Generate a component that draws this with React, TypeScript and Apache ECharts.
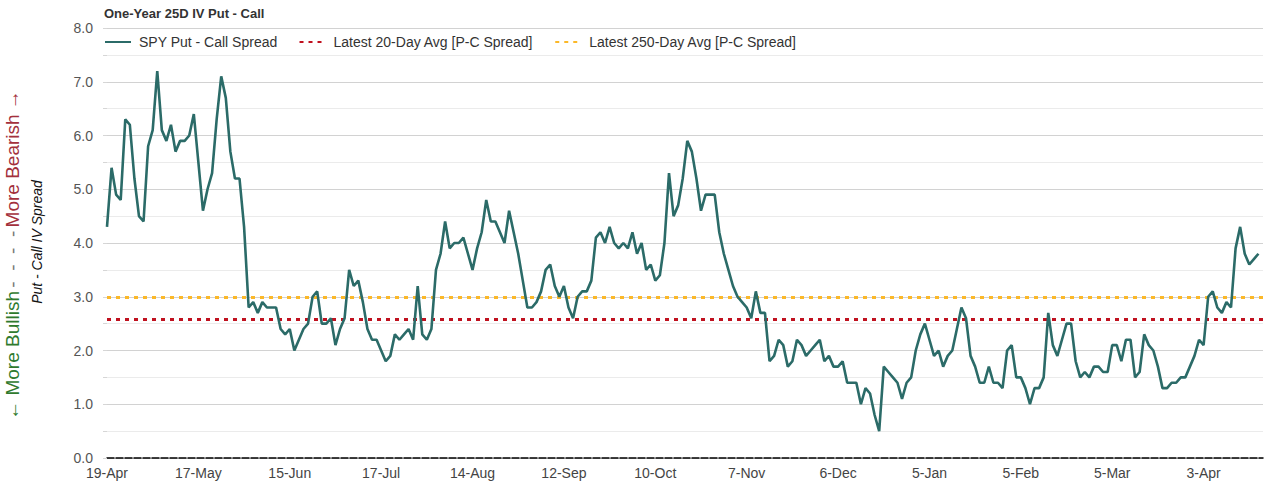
import React, { useEffect, useRef } from "react";
import * as echarts from "echarts";

// ---------- data ----------
const startDate = "2023-04-19";
const endDate = "2024-04-22";
const marketHolidays = [
  "2023-05-29", "2023-06-19", "2023-07-04", "2023-09-04", "2023-11-23",
  "2023-12-25", "2024-01-01", "2024-01-15", "2024-02-19", "2024-03-29",
];
const monthNames = ["Jan", "Feb", "Mar", "Apr", "May", "Jun", "Jul", "Aug", "Sep", "Oct", "Nov", "Dec"];

const spreadAprJul = [
  4.3, 5.4, 4.9, 4.8, 6.3, 6.2, 5.2, 4.5, 4.4, 5.8, 6.1, 7.2, 6.1, 5.9, 6.2, 5.7, 5.9, 5.9, 6.0, 6.4,
  5.5, 4.6, 5.0, 5.3, 6.3, 7.1, 6.7, 5.7, 5.2, 5.2, 4.3, 2.8, 2.9, 2.7, 2.9, 2.8, 2.8, 2.8, 2.4, 2.3,
  2.4, 2.0, 2.2, 2.4, 2.5, 3.0, 3.1, 2.5, 2.5, 2.6, 2.1, 2.4, 2.6, 3.5, 3.2, 3.3, 2.9, 2.4, 2.2, 2.2,
];
const spreadJulOct = [
  2.0, 1.8, 1.9, 2.3, 2.2, 2.3, 2.4, 2.2, 3.2, 2.3, 2.2, 2.4, 3.5, 3.8, 4.4, 3.9, 4.0, 4.0, 4.1, 3.8,
  3.5, 3.9, 4.2, 4.8, 4.4, 4.4, 4.2, 4.0, 4.6, 4.2, 3.8, 3.3, 2.8, 2.8, 2.9, 3.1, 3.5, 3.6, 3.2, 3.0,
  3.2, 2.8, 2.6, 3.0, 3.1, 3.1, 3.3, 4.1, 4.2, 4.0, 4.3, 4.0, 3.9, 4.0, 3.9, 4.2, 3.8, 4.0, 3.5, 3.6,
];
const spreadOctJan = [
  3.3, 3.4, 4.0, 5.3, 4.5, 4.7, 5.2, 5.9, 5.7, 5.2, 4.6, 4.9, 4.9, 4.9, 4.2, 3.8, 3.5, 3.2, 3.0, 2.9,
  2.8, 2.6, 3.1, 2.7, 2.7, 1.8, 1.9, 2.2, 2.1, 1.7, 1.8, 2.2, 2.1, 1.9, 2.0, 2.1, 2.2, 1.8, 1.9, 1.7,
  1.7, 1.8, 1.4, 1.4, 1.4, 1.0, 1.3, 1.2, 0.8, 0.5, 1.7, 1.6, 1.5, 1.4, 1.1, 1.4, 1.5, 2.0, 2.3, 2.5,
];
const spreadJanApr = [
  2.2, 1.9, 2.0, 1.7, 1.9, 2.0, 2.4, 2.8, 2.6, 1.9, 1.7, 1.4, 1.4, 1.7, 1.4, 1.4, 1.3, 2.0, 2.1, 1.5,
  1.5, 1.3, 1.0, 1.3, 1.3, 1.5, 2.7, 2.1, 1.9, 2.2, 2.5, 2.5, 1.8, 1.5, 1.6, 1.5, 1.7, 1.7, 1.6, 1.6,
  2.1, 2.1, 1.8, 2.2, 2.2, 1.5, 1.6, 2.3, 2.1, 2.0, 1.7, 1.3, 1.3, 1.4, 1.4, 1.5, 1.5, 1.7, 1.9, 2.2,
  2.1, 3.0, 3.1, 2.8, 2.7, 2.9, 2.8, 3.9, 4.3, 3.8, 3.6, 3.7, 3.8,
];
const avg20Day = 2.58;
const avg250Day = 3.0;

const seriesNames = [
  "SPY Put - Call Spread",
  "Latest 20-Day Avg [P-C Spread]",
  "Latest 250-Day Avg [P-C Spread]",
];

// ---------- helpers ----------
function tradingDays(start: string, end: string, holidays: string[]): string[] {
  const out: string[] = [];
  const d = new Date(start + "T00:00:00Z");
  const e = new Date(end + "T00:00:00Z");
  while (d <= e) {
    const iso = d.toISOString().slice(0, 10);
    const wd = d.getUTCDay();
    if (wd !== 0 && wd !== 6 && holidays.indexOf(iso) < 0) {
      out.push(d.getUTCDate() + "-" + monthNames[d.getUTCMonth()]);
    }
    d.setUTCDate(d.getUTCDate() + 1);
  }
  return out;
}

const FONT = "'Liberation Sans', Arial, Helvetica, sans-serif";

export default function App() {
  const ref = useRef<HTMLDivElement>(null);

  useEffect(() => {
    if (!ref.current) return;
    const chart = echarts.init(ref.current, undefined, { renderer: "svg" });
    const categories = tradingDays(startDate, endDate, marketHolidays);
    const spread = [...spreadAprJul, ...spreadJulOct, ...spreadOctJan, ...spreadJanApr];

    chart.setOption({
      animation: false,
      backgroundColor: "#ffffff",
      title: {
        text: "One-Year 25D IV Put - Call",
        left: 104,
        top: 7,
        padding: 0,
        textStyle: { fontFamily: FONT, fontSize: 13, fontWeight: "bold", color: "#333333" },
      },
      legend: {
        left: 104,
        top: 35,
        padding: 0,
        itemWidth: 26,
        itemHeight: 14,
        itemGap: 21,
        data: seriesNames,
        itemStyle: { opacity: 0 },
        textStyle: { fontFamily: FONT, fontSize: 14, color: "#333333", padding: [0, 0, 0, 3] },
      },
      grid: { left: 107, right: 17, top: 28, bottom: 36 },
      xAxis: {
        type: "category",
        data: categories,
        boundaryGap: false,
        axisLine: { show: true, lineStyle: { color: "#000000", width: 1.5, type: [7, 2] } },
        axisTick: { show: false },
        axisLabel: {
          interval: 19,
          fontFamily: FONT,
          fontSize: 14,
          color: "#444444",
          margin: 8,
        },
        splitLine: { show: false },
      },
      yAxis: {
        type: "value",
        min: 0,
        max: 8,
        interval: 0.5,
        axisLine: { show: false },
        axisTick: { show: true, length: 4, lineStyle: { color: "#d6d6d6" } },
        axisLabel: {
          fontFamily: FONT,
          fontSize: 14,
          color: "#555555",
          margin: 14,
          formatter: (v: number) => (Math.abs(v % 1) < 1e-9 ? v.toFixed(1) : ""),
        },
        splitLine: { show: true, lineStyle: { color: ["#d2d2d2", "#ebebeb"], width: 1 } },
      },
      graphic: [
        {
          type: "text",
          x: 37,
          y: 242,
          rotation: Math.PI / 2,
          style: {
            text: "Put - Call IV Spread",
            font: "italic 14px " + FONT,
            fill: "#111111",
            align: "center",
            verticalAlign: "middle",
          },
        },
        {
          type: "text",
          x: 12,
          y: 255,
          rotation: Math.PI / 2,
          style: {
            text: "{g|← More Bullish} {d|-  -  -  -} {r|More Bearish →}",
            align: "center",
            verticalAlign: "middle",
            rich: {
              g: { fontFamily: FONT, fontSize: 19, fill: "#2f7a2e", color: "#2f7a2e" },
              d: { fontFamily: FONT, fontSize: 19, fill: "#777777", color: "#777777" },
              r: { fontFamily: FONT, fontSize: 19, fill: "#a3303c", color: "#a3303c" },
            },
          },
        },
      ],
      series: [
        {
          name: seriesNames[0],
          type: "line",
          data: spread,
          symbol: "none",
          showSymbol: false,
          lineStyle: { color: "#2b6b68", width: 2.6 },
          itemStyle: { color: "#2b6b68" },
          z: 5,
        },
        {
          name: seriesNames[1],
          type: "line",
          data: [],
          symbol: "none",
          lineStyle: { color: "#c0111f", width: 3, type: [4, 5] },
          itemStyle: { color: "#c0111f" },
          markLine: {
            silent: true,
            symbol: "none",
            label: { show: false },
            lineStyle: { color: "#c0111f", width: 3, type: [4, 5] },
            data: [{ yAxis: avg20Day }],
          },
          z: 3,
        },
        {
          name: seriesNames[2],
          type: "line",
          data: [],
          symbol: "none",
          lineStyle: { color: "#fbb829", width: 3, type: [4, 5] },
          itemStyle: { color: "#fbb829" },
          markLine: {
            silent: true,
            symbol: "none",
            label: { show: false },
            lineStyle: { color: "#fbb829", width: 3, type: [4, 5] },
            data: [{ yAxis: avg250Day }],
          },
          z: 3,
        },
      ],
    });

    return () => chart.dispose();
  }, []);

  return (
    <div
      ref={ref}
      style={{ position: "fixed", left: 0, top: 0, width: 1280, height: 494, background: "#fff" }}
    />
  );
}
